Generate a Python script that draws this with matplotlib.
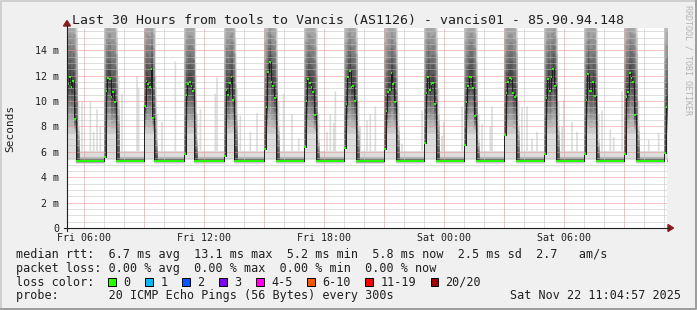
import numpy as np
import matplotlib
matplotlib.use("Agg")
import matplotlib.pyplot as plt
from matplotlib.patches import Rectangle, Polygon

# ---------------------------------------------------------------------------
# data (milliseconds, one step = 5 minutes)
# hours are counted from Fri 00:00
# ---------------------------------------------------------------------------
step_h = 5 / 60.0
first_step = 5.0                 # Fri 05:00
n_steps = 363                    # up to Sat 11:15
view_start, view_end = 5.15, 35.15

spike_start = [5, 7, 9, 11, 13, 15, 17, 19, 21, 23, 25, 27, 29, 31, 33, 35]
spike_median = [
    [11.5, 11.5, 11.3, 11.9, 11.1, 11.6, 8.6],
    [5.6, 10.8, 11.8, 11.7, 10.3, 10.7, 9.9],
    [9.6, 11.6, 11.3, 11.1, 12.5, 8.7],
    [5.8, 10.5, 11.3, 11.5, 11.2, 10.8],
    [5.7, 10.9, 10.5, 11.4, 11.9, 10.1],
    [6.2, 9.5, 12.3, 13.1, 11.5, 11.2, 10.2],
    [6.4, 10.0, 11.7, 11.4, 11.1, 10.7, 8.9],
    [6.3, 9.8, 11.9, 12.4, 11.1, 11.2, 10.0],
    [6.2, 9.2, 10.7, 10.9, 12.2, 11.3, 9.9],
    [6.7, 10.6, 11.9, 10.9, 11.3, 11.4, 9.8],
    [6.5, 9.9, 11.2, 11.9, 11.9, 11.0, 8.8],
    [7.3, 10.6, 11.5, 11.8, 11.7, 10.6, 10.3],
    [5.8, 10.2, 11.7, 10.8, 11.9, 12.5, 11.2],
    [5.8, 10.1, 12.1, 10.8, 10.8, 11.5, 10.4],
    [5.8, 10.3, 10.7, 12.2, 11.8, 11.5, 8.9],
    [5.9, 9.5],
]
# median between the spikes
gap_median = [5.25, 5.3, 5.3, 5.3, 5.3, 5.3, 5.3, 5.25, 5.3, 5.3, 5.3, 5.3, 5.3, 5.3, 5.3]
# upper edge of the smoke in the two steps right after each spike
post_top = [15, 15, 12, 13, 15, 14, 13, 15, 14, 15, 13, 15, 15, 14, 15]
post_top2 = [10, 12, 9, 9, 11, 10, 9, 10, 10, 11, 9, 10, 10, 9, 10]
# single slow pings in the quiet periods
outlier_hour = [5.85, 6.33, 6.47, 6.64, 6.83, 7.89, 8.64, 8.70,
                9.89, 10.50, 11.75, 12.55, 12.64, 13.80, 14.30, 14.64,
                15.95, 16.35, 16.70, 17.80, 18.10, 18.30, 18.45, 18.55, 19.75, 20.10,
                20.30, 20.50, 21.85, 22.90, 23.90, 23.98, 24.85, 25.90, 26.30, 26.38,
                27.89, 28.15, 28.40, 28.65, 29.85, 29.95, 30.35, 30.65, 31.85, 32.30,
                32.45, 32.85, 34.20, 34.70]
outlier_max = [10.0, 10.0, 7.6, 9.4, 8.0, 10.6, 12.0, 11.1,
               8.4, 13.15, 9.4, 10.6, 11.9, 8.9, 7.6, 9.1,
               10.6, 9.0, 7.1, 6.0, 7.6, 9.0, 8.3, 10.8, 8.0, 8.5,
               9.0, 9.6, 6.7, 9.3, 7.3, 8.4, 9.6, 8.2, 8.0, 9.6,
               9.55, 9.6, 7.1, 7.6, 8.0, 10.1, 8.4, 7.6, 9.3, 7.8,
               7.2, 10.8, 7.0, 7.5]

xtick_hours = [6, 12, 18, 24, 30]
xtick_labels = ["Fri 06:00", "Fri 12:00", "Fri 18:00", "Sat 00:00", "Sat 06:00"]
ytick_values = [0, 2, 4, 6, 8, 10, 12, 14]
ytick_labels = ["0", "2 m", "4 m", "6 m", "8 m", "10 m", "12 m", "14 m"]

loss_labels = ["0", "1", "2", "3", "4-5", "6-10", "11-19", "20/20"]
loss_colors = ["#26ff00", "#00b8ff", "#0059ff", "#7e00ff", "#ff00ea",
               "#ff5500", "#ff0000", "#a10000"]

rtt_line = "median rtt:  6.7 ms avg  13.1 ms max  5.2 ms min  5.8 ms now  2.5 ms sd  2.7   am/s"
loss_line = "packet loss: 0.00 % avg  0.00 % max  0.00 % min  0.00 % now"
probe_line = "probe:       20 ICMP Echo Pings (56 Bytes) every 300s"
date_text = "Sat Nov 22 11:04:57 2025"
title = "Last 30 Hours from tools to Vancis (AS1126) - vancis01 - 85.90.94.148"

# ---------------------------------------------------------------------------
# per-step series
# ---------------------------------------------------------------------------
t = first_step + np.arange(n_steps + 1) * step_h
med = np.full(n_steps, gap_median[0])
kind = np.zeros(n_steps, int)        # 0 quiet, 1 spike
starts = [int(round((h - first_step) / step_h)) for h in spike_start]
post_idx = []
for i, s in enumerate(starts):
    vals = spike_median[i]
    e = min(s + len(vals), n_steps)
    med[s:e] = vals[:e - s]
    kind[s:e] = 1
    if i < len(gap_median):
        med[e:starts[i + 1]] = gap_median[i]
        post_idx.append(e)

# smoke extent per step: lowest ping, body low, body high, slowest ping
lo = np.where(kind == 1, 5.4, 5.1)
blo = np.where(kind == 1, 7.5, 5.2)
bhi = np.where(kind == 1, 17.5, 5.65)
hi = np.where(kind == 1, 24.0, 6.1)
for i, e in enumerate(post_idx):
    bhi[e], hi[e] = post_top[i], post_top[i] + 5
    bhi[e + 1], hi[e + 1] = post_top2[i] - 2, post_top2[i]
for h, v in zip(outlier_hour, outlier_max):
    k = int((h - first_step) // step_h)
    hi[k] = max(hi[k], v)
blo = np.minimum(blo, med)
bhi = np.maximum(bhi, med)

# 20 sorted pings per step
pings = np.empty((n_steps, 20))
pings[:, 0] = lo
pings[:, 19] = hi
for j in range(1, 10):
    pings[:, j] = blo + (med - blo) * (j - 1) / 8
for j in range(10, 19):
    pings[:, j] = med + (bhi - med) * (j - 10) / 8

# ---------------------------------------------------------------------------
# figure
# ---------------------------------------------------------------------------
W, H = 697, 310
plt.rcParams["font.family"] = "DejaVu Sans Mono"
fig = plt.figure(figsize=(W / 100, H / 100), dpi=100, facecolor="#f0f0f0")

ax = fig.add_axes([67 / W, (H - 228) / H, 600 / W, 200 / H])
ax.set_facecolor("white")
ax.set_xlim(view_start, view_end)
ax.set_ylim(0, 200 / 12.7)
for sp in ax.spines.values():
    sp.set_visible(False)

# smoke, outer pings lightest
for k in range(10):
    g = 221 - 19 * k
    ax.fill_between(t, np.append(pings[:, k], pings[-1, k]),
                    np.append(pings[:, 19 - k], pings[-1, 19 - k]),
                    step="post", color="#%02x%02x%02x" % (g, g, g), lw=0, zorder=1)

# grid
for v in np.arange(0.5, 15.75, 0.5):
    if v % 2:
        ax.axhline(v, color="#c0c0c0", lw=0.72, ls=(0, (1, 1)), zorder=2)
for v in range(2, 16, 2):
    ax.axhline(v, color="#f08c8c", lw=0.72, ls=(0, (1, 1)), zorder=2)
for h in range(6, 36):
    c = "#f08c8c" if h % 3 == 0 else "#c0c0c0"
    ax.axvline(h, color=c, lw=0.72, ls=(0, (1, 1)), zorder=2)

# median
ax.step(t, np.append(med, med[-1]), where="post", color="#1e1e1e", lw=0.7, zorder=4)
ax.hlines(med, t[:-1], t[1:], colors=loss_colors[0], lw=1.4, zorder=5)

ax.set_xticks(xtick_hours, xtick_labels)
ax.set_yticks(ytick_values, ytick_labels)
ax.tick_params(length=0, labelsize=7.2, colors="#202020")
ax.tick_params(axis="x", pad=3.5)
ax.tick_params(axis="y", pad=5.8)

# decorations in pixel coordinates
deco = fig.add_axes([0, 0, 1, 1], zorder=5)
deco.set_xlim(0, W)
deco.set_ylim(H, 0)
deco.axis("off")
deco.patch.set_visible(False)

deco.plot([1, 1, W - 1], [H - 1, 1, 1], color="#cfcfcf", lw=1.44)
deco.plot([1, W - 1, W - 1], [H - 1, H - 1, 1], color="#9e9e9e", lw=1.44)

deco.plot([64, 669], [228, 228], color="#202020", lw=0.8)
deco.plot([67, 67], [231, 25], color="#202020", lw=0.8)
deco.add_patch(Polygon([[668, 224.5], [673.5, 228], [668, 231.5]], color="#8c1c1c"))
deco.add_patch(Polygon([[63.5, 26], [67, 20.5], [70.5, 26]], color="#8c1c1c"))

deco.text(348.5, 24, title, ha="center", va="baseline", size=9.5, color="#202020")
deco.text(10, 128, "Seconds", rotation=90, ha="center", va="center", size=8, color="#202020")
deco.text(688, 5, "RRDTOOL / TOBI OETIKER", rotation=270, ha="center", va="top",
          size=6, color="#b4b4b4")

fs = 8.45
deco.text(16, 258.3, rtt_line, size=fs, va="baseline", color="#202020")
deco.text(16, 272, loss_line, size=fs, va="baseline", color="#202020")
deco.text(16, 285.7, "loss color:", size=fs, va="baseline", color="#202020")
deco.text(16, 299.4, probe_line, size=fs, va="baseline", color="#202020")
deco.text(681, 299.4, date_text, size=fs, va="baseline", ha="right", color="#202020")

bx = 108.3
for lab, col in zip(loss_labels, loss_colors):
    deco.add_patch(Rectangle((bx, 278.3), 7.5, 7.5, facecolor=col, edgecolor="black", lw=0.72))
    deco.text(bx + 15, 285.7, lab, size=fs, va="baseline", color="#202020")
    bx += 29.9 + 7.06 * len(lab)

fig.savefig("out.png", dpi=100, facecolor=fig.get_facecolor())
